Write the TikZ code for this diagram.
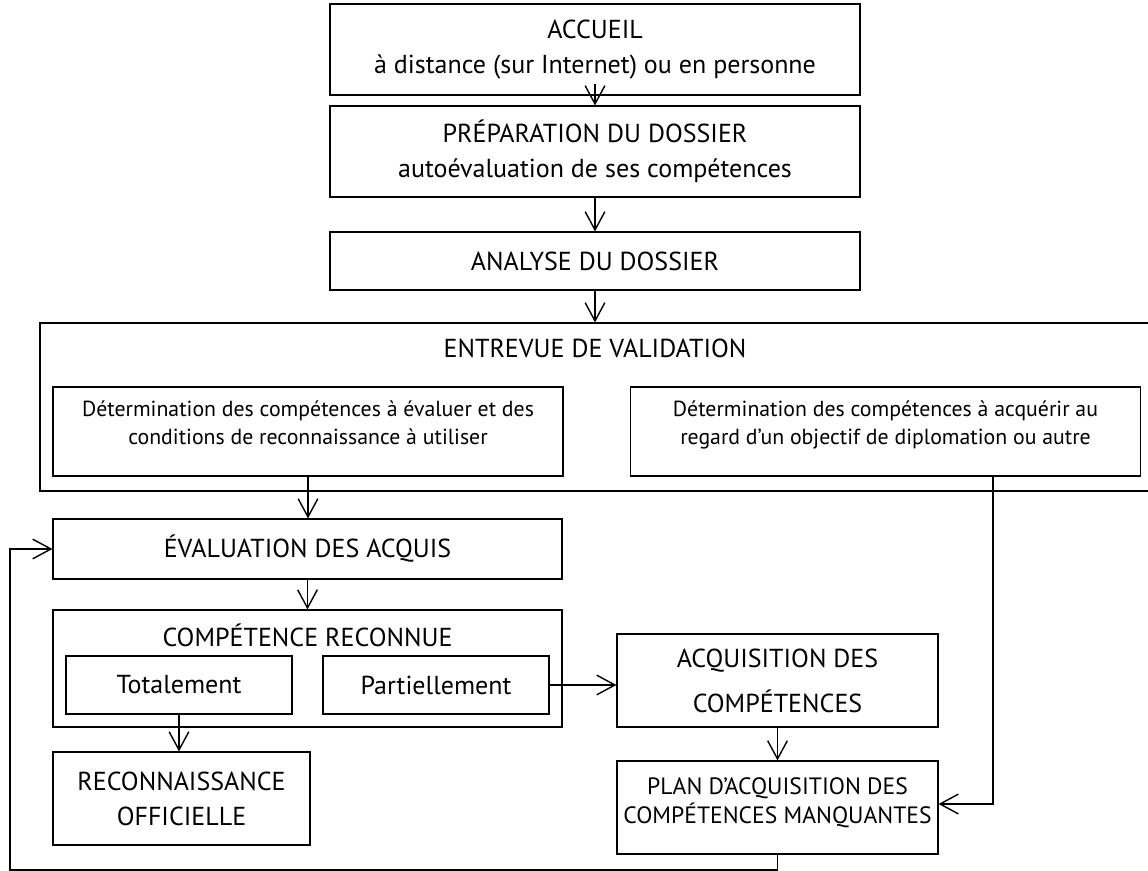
\documentclass[tikz,border=0pt]{standalone}
\usepackage{fontspec}
\setmainfont{PT Sans}
\usetikzlibrary{arrows.meta}
\usetikzlibrary{calc}

\begin{document}
\begin{tikzpicture}
[boxdecorate/.style={shape=rectangle,draw,line width=0.8pt,inner sep=0pt,align=center,
   font=\fontsize{18.5}{25}\selectfont},%
  smalldecorate/.style={boxdecorate,font=\fontsize{15.5}{20.6}\selectfont},%
  titledecorate/.style={inner sep=0pt,font=\fontsize{18.5}{25}\selectfont},%
  linedecorate/.style={-{Straight Barb[length=13pt,width=14pt,line width=1pt]},line width=1pt}]
\useasboundingbox (0,0) rectangle (28.7,-21.775);
%% upper column
\foreach \nodename/\y/\h/\txt in {accueil/-1.2375/2.275/{ACCUEIL\\à distance (sur Internet) ou en personne},
  prep/-3.7875/2.275/{PRÉPARATION DU DOSSIER\\autoévaluation de ses compétences},
  analyse/-6.525/1.45/{ANALYSE DU DOSSIER}}
{
  \node (\nodename) at (14.875,\y) [boxdecorate,minimum width=13.25cm,minimum height=\h cm] {\txt};
}
%% validation interview
\node (entrevue) at (14.9375,-10.175) [boxdecorate,minimum width=27.875cm,minimum height=4.2cm] {};
\node (entrevuetitle) at (14.875,-8.7) [titledecorate] {ENTREVUE DE VALIDATION};
\node (detEval) at (7.7,-10.7875) [smalldecorate,minimum width=12.75cm,minimum height=2.225cm]
  {Détermination des compétences à évaluer et des\\conditions de reconnaissance à utiliser\\[-8pt]\mbox{}};
\node (detAcq) at (22.1375,-10.7875) [smalldecorate,minimum width=12.75cm,minimum height=2.225cm]
  {Détermination des compétences à acquérir au\\regard d’un objectif de diplomation ou autre\\[-8pt]\mbox{}};
%% assessment
\node (eval) at (7.6875,-13.725) [boxdecorate,minimum width=12.725cm,minimum height=1.5cm] {ÉVALUATION DES ACQUIS};
\node (compRec) at (7.6875,-16.7125) [boxdecorate,minimum width=12.725cm,minimum height=2.925cm] {};
\node (compRectitle) at (7.6875,-15.875) [titledecorate] {COMPÉTENCE RECONNUE};
\node (totalement) at (4.475,-17.125) [boxdecorate,minimum width=5.65cm,minimum height=1.45cm] {Totalement};
\node (partiellement) at (10.9,-17.125) [boxdecorate,minimum width=5.65cm,minimum height=1.45cm] {Partiellement};
\node (reconnaissance) at (4.5375,-19.9625) [boxdecorate,minimum width=6.425cm,minimum height=2.325cm]
  {RECONNAISSANCE\\OFFICIELLE};
\node (acquisition) at (19.4375,-17.0125) [boxdecorate,minimum width=8.025cm,minimum height=2.325cm]
  {ACQUISITION DES\\[7pt]COMPÉTENCES};
\node (plan) at (19.4375,-20.1875) [boxdecorate,minimum width=8.025cm,minimum height=2.325cm,
  font=\fontsize{16.8}{20.6}\selectfont]
  {PLAN D’ACQUISITION DES\\COMPÉTENCES MANQUANTES\\[-10.6pt]\mbox{}};
%% connectors
\draw[linedecorate] ([yshift=0.3cm]accueil.south) -- (prep.north);
\foreach \startnode/\endnode in {prep/analyse, analyse/entrevue,
  detEval/eval, eval/compRec, acquisition/plan, totalement/reconnaissance}
{
  \draw[linedecorate] (\startnode.south) -- (\startnode.south |- \endnode.north);
}
\draw[linedecorate] (partiellement) -- (acquisition.west |- partiellement);
\coordinate (detdrop) at ($(detAcq.south)+(2.6875,0)$);
\draw[linedecorate] (detdrop) |- ([yshift=0.0875cm]plan.east);
\coordinate (loopcorner) at (0.25,-21.75);
\draw[linedecorate] (plan.south) |- (loopcorner) |- (eval.west);
\end{tikzpicture}
\end{document}
